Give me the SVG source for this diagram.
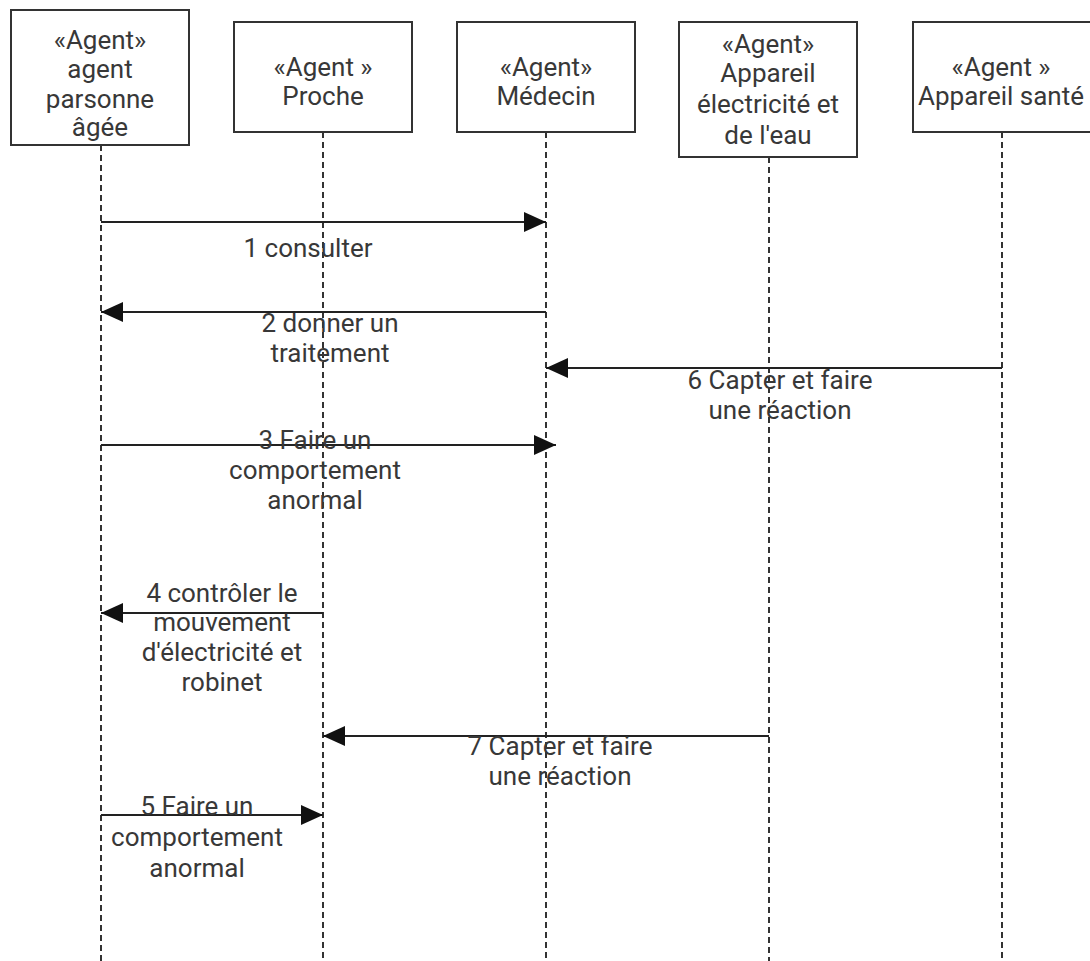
<svg xmlns="http://www.w3.org/2000/svg" width="1090" height="961" viewBox="0 0 1090 961">
  <style>
    .box { fill: #ffffff; stroke: #333333; stroke-width: 2; }
    .life { stroke: #333333; stroke-width: 2; stroke-dasharray: 6 4; fill: none; }
    .msg { stroke: #222222; stroke-width: 2; fill: none; }
    text { font-family: Roboto, "Liberation Sans", sans-serif; font-size: 26px; fill: #383838; text-anchor: middle; }
  </style>
  <defs>
    <marker id="arrow" viewBox="0 0 22 20" refX="22" refY="10" markerWidth="22" markerHeight="20" markerUnits="userSpaceOnUse" orient="auto">
      <path d="M0,0 L22,10 L0,20 Z" fill="#111111"/>
    </marker>
  </defs>
  <rect width="1090" height="961" fill="#ffffff"/>

  <!-- lifelines -->
  <g id="lifelines">
    <line class="life" x1="101" y1="145" x2="101" y2="961"/>
    <line class="life" x1="323" y1="132" x2="323" y2="961"/>
    <line class="life" x1="546" y1="132" x2="546" y2="961"/>
    <line class="life" x1="769" y1="157" x2="769" y2="961"/>
    <line class="life" x1="1002" y1="132" x2="1002" y2="961"/>
  </g>

  <g id="agent-personne">
    <rect class="box" x="11" y="10" width="178" height="135"/>
    <text x="100" y="49">«Agent»</text>
    <text x="100" y="78">agent</text>
    <text x="100" y="108">parsonne</text>
    <text x="100" y="136">âgée</text>
  </g>
  <g id="agent-proche">
    <rect class="box" x="234" y="22" width="178" height="110"/>
    <text x="323" y="76">«Agent »</text>
    <text x="323" y="105">Proche</text>
  </g>
  <g id="agent-medecin">
    <rect class="box" x="457" y="22" width="178" height="110"/>
    <text x="546" y="76">«Agent»</text>
    <text x="546" y="105">Médecin</text>
  </g>
  <g id="agent-appareil-eau">
    <rect class="box" x="679" y="22" width="178" height="135"/>
    <text x="768" y="53">«Agent»</text>
    <text x="768" y="82">Appareil</text>
    <text x="768" y="113">électricité et</text>
    <text x="768" y="144">de l'eau</text>
  </g>
  <g id="agent-appareil-sante">
    <rect class="box" x="913" y="22" width="178" height="110"/>
    <text x="1001" y="76">«Agent »</text>
    <text x="1001" y="105">Appareil santé</text>
  </g>

  <!-- messages -->
  <g id="connectors">
    <line class="msg" x1="101" y1="222" x2="546" y2="222" marker-end="url(#arrow)"/>
    <line class="msg" x1="546" y1="312" x2="101" y2="312" marker-end="url(#arrow)"/>
    <line class="msg" x1="1002" y1="368" x2="546" y2="368" marker-end="url(#arrow)"/>
    <line class="msg" x1="101" y1="445" x2="556" y2="445" marker-end="url(#arrow)"/>
    <line class="msg" x1="323" y1="613" x2="101" y2="613" marker-end="url(#arrow)"/>
    <line class="msg" x1="769" y1="736" x2="323" y2="736" marker-end="url(#arrow)"/>
    <line class="msg" x1="101" y1="815" x2="323" y2="815" marker-end="url(#arrow)"/>
  </g>

  <g id="labels">
    <text x="308" y="257">1 consulter</text>
    <text x="330" y="332">2 donner un</text>
    <text x="330" y="362">traitement</text>
    <text x="780" y="389">6 Capter et faire</text>
    <text x="780" y="419">une réaction</text>
    <text x="315" y="449">3 Faire un</text>
    <text x="315" y="479">comportement</text>
    <text x="315" y="509">anormal</text>
    <text x="222" y="602">4 contrôler le</text>
    <text x="222" y="631">mouvement</text>
    <text x="222" y="661">d'électricité et</text>
    <text x="222" y="691">robinet</text>
    <text x="560" y="755">7 Capter et faire</text>
    <text x="560" y="785">une réaction</text>
    <text x="197" y="815">5 Faire un</text>
    <text x="197" y="846">comportement</text>
    <text x="197" y="877">anormal</text>
  </g>
</svg>
